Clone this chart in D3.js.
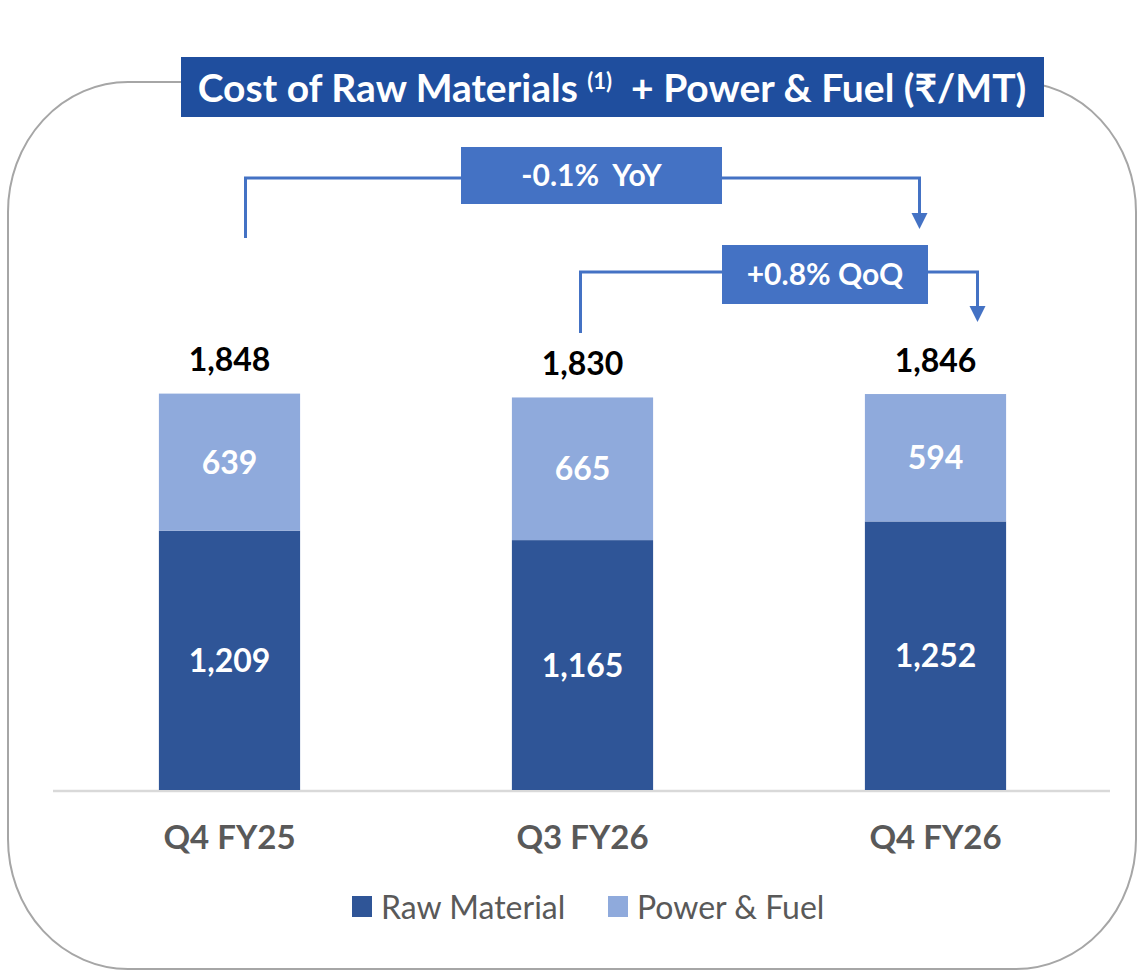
<!DOCTYPE html>
<html>
<head>
<meta charset="utf-8">
<script src="https://cdn.jsdelivr.net/npm/d3@7"></script>
<style>
  body { margin: 0; background: #fff; }
  svg { display: block; font-family: Lato, "Open Sans", sans-serif; }
  text { white-space: pre; }
</style>
</head>
<body>
<div id="chart"></div>
<script>
const categories = ['Q4 FY25', 'Q3 FY26', 'Q4 FY26'];
const rawMaterial = [1209, 1165, 1252];
const powerFuel = [639, 665, 594];
const totals = [1848, 1830, 1846];
const seriesNames = ['Raw Material', 'Power & Fuel'];
const yoyLabel = '-0.1%  YoY';
const qoqLabel = '+0.8% QoQ';

const width = 1140, height = 972;
const colors = { raw: '#2f5597', power: '#8faadc', box: '#4472c4', title: '#1f4e9e' };

const svg = d3.select('#chart').append('svg')
  .attr('width', width)
  .attr('height', height);

// rounded frame behind everything
svg.append('rect')
  .attr('x', 8).attr('y', 82)
  .attr('width', 1128).attr('height', 887)
  .attr('rx', 120).attr('ry', 130)
  .attr('fill', 'none')
  .attr('stroke', '#a6a6a6')
  .attr('stroke-width', 2);

const x = d3.scaleBand()
  .domain(categories)
  .range([53, 1112])
  .paddingInner(0.6)
  .paddingOuter(0.3);

const y = d3.scaleLinear()
  .domain([0, 2000])
  .range([790, 361]);

const data = categories.map((c, i) => ({
  cat: c, raw: rawMaterial[i], power: powerFuel[i], total: totals[i]
}));

// baseline
svg.append('line')
  .attr('x1', 53).attr('x2', 1110)
  .attr('y1', y(0) + 1).attr('y2', y(0) + 1)
  .attr('stroke', '#d9d9d9')
  .attr('stroke-width', 2.5);

const bars = svg.append('g');

bars.selectAll('rect.raw')
  .data(data)
  .join('rect')
    .attr('class', 'raw')
    .attr('x', d => x(d.cat))
    .attr('width', x.bandwidth())
    .attr('y', d => y(d.raw))
    .attr('height', d => y(0) - y(d.raw))
    .attr('fill', colors.raw);

bars.selectAll('rect.power')
  .data(data)
  .join('rect')
    .attr('class', 'power')
    .attr('x', d => x(d.cat))
    .attr('width', x.bandwidth())
    .attr('y', d => y(d.raw + d.power))
    .attr('height', d => y(d.raw) - y(d.raw + d.power))
    .attr('fill', colors.power);

const fmt = d3.format(',');
const cx = d => x(d.cat) + x.bandwidth() / 2;

bars.selectAll('text.rawv')
  .data(data)
  .join('text')
    .attr('x', cx)
    .attr('y', d => (y(0) + y(d.raw)) / 2)
    .attr('dy', '0.36em')
    .attr('text-anchor', 'middle')
    .attr('fill', '#fff')
    .attr('font-weight', 700)
    .attr('font-size', 32)
    .text(d => fmt(d.raw));

bars.selectAll('text.powv')
  .data(data)
  .join('text')
    .attr('x', cx)
    .attr('y', d => (y(d.raw) + y(d.raw + d.power)) / 2)
    .attr('dy', '0.36em')
    .attr('text-anchor', 'middle')
    .attr('fill', '#fff')
    .attr('font-weight', 700)
    .attr('font-size', 32)
    .text(d => fmt(d.power));

bars.selectAll('text.tot')
  .data(data)
  .join('text')
    .attr('x', cx)
    .attr('y', d => y(d.total) - 34)
    .attr('dy', '0.36em')
    .attr('text-anchor', 'middle')
    .attr('fill', '#000')
    .attr('font-weight', 700)
    .attr('font-size', 32)
    .text(d => fmt(d.total));

// category axis
const xAxis = svg.append('g')
  .attr('transform', `translate(0,${y(0)})`)
  .call(d3.axisBottom(x).tickSize(0).tickPadding(36));
xAxis.select('.domain').remove();
xAxis.selectAll('text')
  .attr('font-family', 'Lato, sans-serif')
  .attr('font-size', 33)
  .attr('font-weight', 700)
  .attr('fill', '#595959');

// legend
const legend = svg.append('g').attr('transform', 'translate(352,907)');
const legendX = [0, 256];
seriesNames.forEach((name, i) => {
  const g = legend.append('g').attr('transform', `translate(${legendX[i]},0)`);
  g.append('rect')
    .attr('x', 0).attr('y', -11)
    .attr('width', 20).attr('height', 21)
    .attr('fill', i === 0 ? colors.raw : colors.power);
  g.append('text')
    .attr('x', 29).attr('y', 0)
    .attr('dy', '0.36em')
    .attr('font-size', 32)
    .attr('fill', '#595959')
    .text(name);
});

// title box
svg.append('rect')
  .attr('x', 181).attr('y', 57)
  .attr('width', 863).attr('height', 60)
  .attr('fill', colors.title);
const title = svg.append('text')
  .attr('x', 612).attr('y', 88)
  .attr('dy', '0.36em')
  .attr('text-anchor', 'middle')
  .attr('fill', '#fff')
  .attr('font-weight', 700)
  .attr('font-size', 39);
title.append('tspan').text('Cost of Raw Materials ');
title.append('tspan').attr('font-size', 22).attr('dy', -13).text('(1)');
title.append('tspan').attr('dy', 13).text('  + Power & Fuel (₹/MT)');

// change annotations
const lineColor = colors.box;
function bracket(x1, x2, yTop, y1End, y2End, box, label) {
  const g = svg.append('g');
  g.append('path')
    .attr('d', `M${x1},${y1End}V${yTop}H${x2}V${y2End - 15}`)
    .attr('fill', 'none')
    .attr('stroke', lineColor)
    .attr('stroke-width', 3);
  g.append('path')
    .attr('d', `M${x2 - 8},${y2End - 16}L${x2 + 8},${y2End - 16}L${x2},${y2End}Z`)
    .attr('fill', lineColor);
  g.append('rect')
    .attr('x', box[0]).attr('y', box[1])
    .attr('width', box[2]).attr('height', box[3])
    .attr('fill', colors.box);
  g.append('text')
    .attr('x', box[0] + box[2] / 2)
    .attr('y', box[1] + box[3] / 2)
    .attr('dy', '0.36em')
    .attr('text-anchor', 'middle')
    .attr('fill', '#fff')
    .attr('font-weight', 700)
    .attr('font-size', 30)
    .text(label);
}

const c0 = cx(data[0]), c1 = cx(data[1]), c2 = cx(data[2]);
bracket(c0 + 16, c2 - 16, 178, 238, 229, [461, 147, 261, 57], yoyLabel);
bracket(c1 - 2, c2 + 42, 272, 333, 322, [722, 245, 206, 59], qoqLabel);
</script>
</body>
</html>
